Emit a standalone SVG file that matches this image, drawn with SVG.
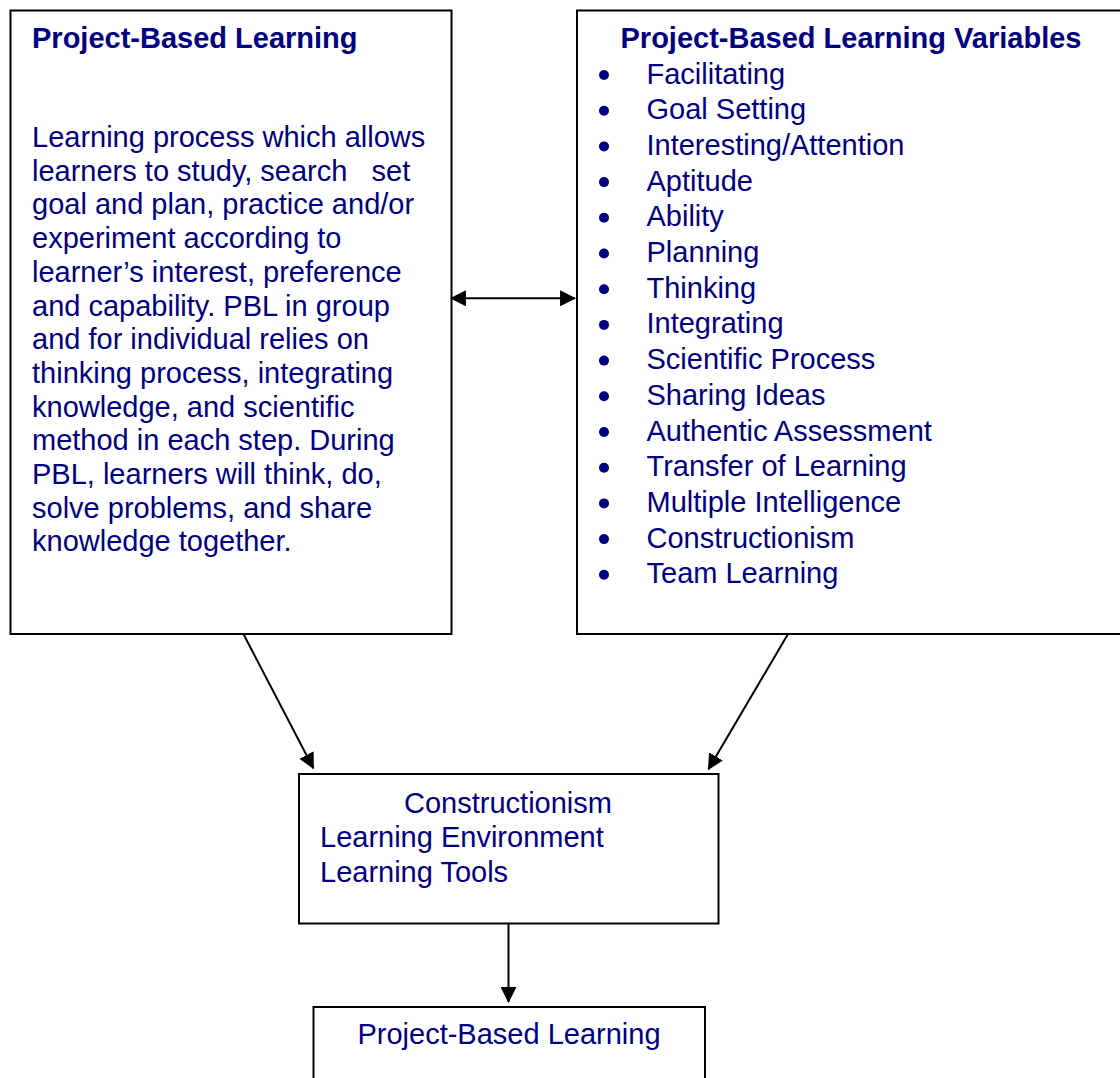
<svg xmlns="http://www.w3.org/2000/svg" width="1120" height="1078" viewBox="0 0 1120 1078">
<style>
  .box { fill: #ffffff; stroke: #000000; stroke-width: 2; }
  .t { font-family: "Liberation Sans", Arial, sans-serif; font-size: 29px; fill: #000080; }
  .b { font-weight: bold; }
  .bullet { fill: #000080; }
  .conn { stroke: #000000; stroke-width: 2; fill: none; }
</style>
<defs>
  <marker id="arr" markerUnits="userSpaceOnUse" markerWidth="16" markerHeight="16" viewBox="0 0 15 15" refX="14" refY="7.5" orient="auto-start-reverse">
    <path d="M0,0 L15,7.5 L0,15 z" fill="#000000"/>
  </marker>
</defs>
<rect width="1120" height="1078" fill="#ffffff"/>

<g id="pbl-definition">
  <rect class="box" x="10.5" y="10.5" width="441" height="623.5"/>
  <text class="t b" x="32" y="48">Project-Based Learning</text>
  <text class="t" x="32" y="147">Learning process which allows</text>
  <text class="t" x="32" y="180.7" xml:space="preserve">learners to study, search   set</text>
  <text class="t" x="32" y="214.4">goal and plan, practice and/or</text>
  <text class="t" x="32" y="248.1">experiment according to</text>
  <text class="t" x="32" y="281.8">learner’s interest, preference</text>
  <text class="t" x="32" y="315.5">and capability. PBL in group</text>
  <text class="t" x="32" y="349.2">and for individual relies on</text>
  <text class="t" x="32" y="382.9">thinking process, integrating</text>
  <text class="t" x="32" y="416.6">knowledge, and scientific</text>
  <text class="t" x="32" y="450.3">method in each step. During</text>
  <text class="t" x="32" y="484">PBL, learners will think, do,</text>
  <text class="t" x="32" y="517.7">solve problems, and share</text>
  <text class="t" x="32" y="551.4">knowledge together.</text>
</g>

<g id="pbl-variables">
  <rect class="box" x="577" y="10.5" width="560" height="623.5"/>
  <text class="t b" x="620.5" y="48">Project-Based Learning Variables</text>
  <g class="bullet">
    <circle cx="604" cy="75" r="5"/>
    <circle cx="604" cy="110.7" r="5"/>
    <circle cx="604" cy="146.4" r="5"/>
    <circle cx="604" cy="182.1" r="5"/>
    <circle cx="604" cy="217.8" r="5"/>
    <circle cx="604" cy="253.5" r="5"/>
    <circle cx="604" cy="289.2" r="5"/>
    <circle cx="604" cy="324.9" r="5"/>
    <circle cx="604" cy="360.6" r="5"/>
    <circle cx="604" cy="396.3" r="5"/>
    <circle cx="604" cy="432" r="5"/>
    <circle cx="604" cy="467.7" r="5"/>
    <circle cx="604" cy="503.4" r="5"/>
    <circle cx="604" cy="539.1" r="5"/>
    <circle cx="604" cy="574.8" r="5"/>
  </g>
  <text class="t" x="646.5" y="83.5">Facilitating</text>
  <text class="t" x="646.5" y="119.2">Goal Setting</text>
  <text class="t" x="646.5" y="154.9">Interesting/Attention</text>
  <text class="t" x="646.5" y="190.6">Aptitude</text>
  <text class="t" x="646.5" y="226.3">Ability</text>
  <text class="t" x="646.5" y="262">Planning</text>
  <text class="t" x="646.5" y="297.7">Thinking</text>
  <text class="t" x="646.5" y="333.4">Integrating</text>
  <text class="t" x="646.5" y="369.1">Scientific Process</text>
  <text class="t" x="646.5" y="404.8">Sharing Ideas</text>
  <text class="t" x="646.5" y="440.5">Authentic Assessment</text>
  <text class="t" x="646.5" y="476.2">Transfer of Learning</text>
  <text class="t" x="646.5" y="511.9">Multiple Intelligence</text>
  <text class="t" x="646.5" y="547.6">Constructionism</text>
  <text class="t" x="646.5" y="583.3">Team Learning</text>
</g>

<g id="constructionism">
  <rect class="box" x="299" y="774" width="419.5" height="149.5"/>
  <text class="t" x="508" y="812.5" text-anchor="middle">Constructionism</text>
  <text class="t" x="320" y="846.5">Learning Environment</text>
  <text class="t" x="320" y="881.5">Learning Tools</text>
</g>

<g id="pbl-result">
  <rect class="box" x="313.5" y="1007" width="391.5" height="100"/>
  <text class="t" x="509" y="1044" text-anchor="middle">Project-Based Learning</text>
</g>

<g id="connectors">
  <line class="conn" x1="451" y1="298.3" x2="575" y2="298.3" marker-start="url(#arr)" marker-end="url(#arr)"/>
  <line class="conn" x1="243.4" y1="634" x2="313.4" y2="768.3" marker-end="url(#arr)"/>
  <line class="conn" x1="788" y1="634" x2="708.4" y2="769.3" marker-end="url(#arr)"/>
  <line class="conn" x1="508.5" y1="923.5" x2="508.5" y2="1002" marker-end="url(#arr)"/>
</g>
</svg>
